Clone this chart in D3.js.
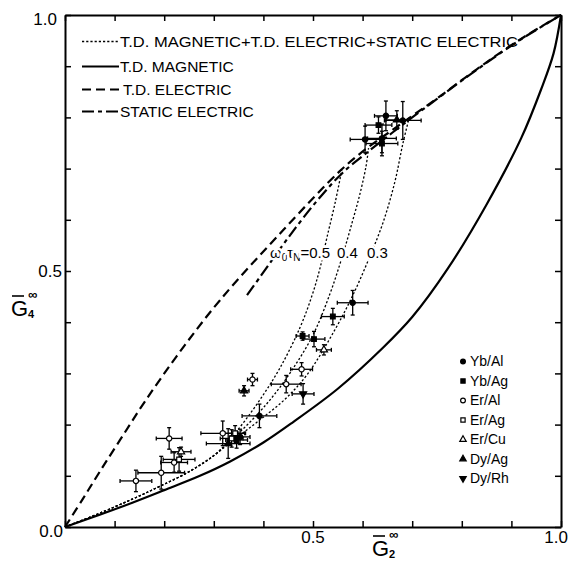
<!DOCTYPE html>
<html><head><meta charset="utf-8">
<script src="https://cdn.jsdelivr.net/npm/d3@7"></script>
<style>body{margin:0;background:#fff}svg{display:block}text{font-family:"Liberation Sans",Arial,sans-serif;fill:#000}</style>
</head><body>
<script>
// ---- data (G2 infinity, G4 infinity) ----
const tickValues = [0,0.1,0.2,0.3,0.4,0.5,0.6,0.7,0.8,0.9,1.0];
const tickLabels = ["0.5","1.0"];
const tdMagnetic = [[0,0],[0.07,0.024],[0.137,0.048],[0.2,0.072],[0.272,0.10],[0.333,0.128],[0.4,0.165],[0.46,0.205],[0.55,0.27],[0.641,0.35],[0.70,0.41],[0.772,0.505],[0.85,0.63],[0.92,0.76],[0.96,0.855],[0.985,0.925],[1,1]];
const tdElectric = [[0,0],[0.036,0.055],[0.07,0.108],[0.111,0.17],[0.161,0.245],[0.23,0.34],[0.3125,0.443],[0.44,0.58],[0.554,0.695],[0.609,0.74],[0.661,0.776],[0.70,0.803],[0.75,0.837],[0.83,0.894],[0.917,0.952],[1,1]];
const staticElectric = [[0.367,0.453],[0.393,0.488],[0.45,0.565],[0.508,0.637],[0.56,0.692],[0.615,0.736],[0.661,0.771],[0.70,0.80],[0.75,0.836],[0.83,0.893],[0.917,0.951],[1,1]];
const combined05 = [[0,0],[0.07,0.027],[0.137,0.055],[0.19,0.079],[0.25,0.108],[0.302,0.141],[0.34,0.18],[0.387,0.24],[0.433,0.31],[0.474,0.39],[0.498,0.452],[0.514,0.505],[0.528,0.565],[0.545,0.635],[0.558,0.697]];
const combined04 = [[0,0],[0.07,0.027],[0.137,0.055],[0.19,0.079],[0.25,0.108],[0.302,0.141],[0.34,0.174],[0.38,0.212],[0.419,0.255],[0.458,0.307],[0.5,0.375],[0.534,0.455],[0.558,0.525],[0.579,0.595],[0.595,0.652],[0.607,0.705],[0.612,0.74]];
const combined03 = [[0,0],[0.07,0.027],[0.137,0.055],[0.19,0.079],[0.25,0.108],[0.302,0.141],[0.34,0.17],[0.39,0.207],[0.444,0.25],[0.49,0.3],[0.544,0.385],[0.579,0.45],[0.611,0.52],[0.641,0.594],[0.665,0.674],[0.681,0.748],[0.694,0.80]];
const omegaLabels = ["0.5","0.4","0.3"];
// samples: [G2, G4, dG2, dG4, system]
const samples = [
 [0.143,0.090,0.032,0.021,"Er/Al"],[0.194,0.106,0.047,0.032,"Er/Al"],[0.210,0.173,0.026,0.021,"Er/Al"],
 [0.220,0.126,0.027,0.019,"Er/Al"],[0.230,0.132,0.032,0.023,"Er/Ag"],[0.234,0.147,0.020,0.009,"Er/Cu"],
 [0.318,0.183,0.044,0.024,"Er/Al"],[0.329,0.163,0.044,0.029,"Dy/Ag"],[0.336,0.173,0.023,0.017,"Er/Ag"],
 [0.343,0.183,0.021,0.015,"Er/Ag"],[0.346,0.170,0.022,0.016,"Yb/Ag"],[0.353,0.176,0.020,0.015,"Yb/Al"],
 [0.392,0.217,0.035,0.023,"Yb/Al"],[0.378,0.288,0.010,0.012,"Er/Al"],[0.361,0.266,0.010,0.010,"Dy/Ag"],
 [0.446,0.279,0.030,0.017,"Er/Al"],[0.480,0.260,0.022,0.020,"Dy/Rh"],[0.477,0.308,0.022,0.013,"Er/Al"],
 [0.522,0.346,0.015,0.010,"Er/Cu"],[0.502,0.367,0.022,0.015,"Yb/Ag"],[0.479,0.373,0.013,0.008,"Yb/Ag"],
 [0.540,0.411,0.023,0.016,"Yb/Ag"],[0.580,0.438,0.031,0.024,"Yb/Al"],
 [0.605,0.757,0.030,0.026,"Yb/Al"],[0.639,0.759,0.029,0.028,"Yb/Al"],[0.639,0.749,0.032,0.024,"Yb/Ag"],
 [0.632,0.785,0.027,0.016,"Yb/Ag"],[0.647,0.803,0.023,0.029,"Yb/Al"],[0.669,0.795,0.022,0.018,"Dy/Ag"],
 [0.681,0.794,0.037,0.037,"Yb/Al"]
];
const systems = ["Yb/Al","Yb/Ag","Er/Al","Er/Ag","Er/Cu","Dy/Ag","Dy/Rh"];
const curveNames = ["T.D. MAGNETIC+T.D. ELECTRIC+STATIC ELECTRIC","T.D. MAGNETIC","T.D. ELECTRIC","STATIC ELECTRIC"];

// ---- drawing ----
const W=570,H=561;
const svg=d3.select("body").append("svg").attr("width",W).attr("height",H);
svg.append("rect").attr("width",W).attr("height",H).attr("fill","#fff");
const x=d3.scaleLinear().domain([0,1]).range([65,561]);
const y=d3.scaleLinear().domain([0,1]).range([527,15]);

function axis(gen,transform){
  const g=svg.append("g").attr("transform",transform)
    .call(gen.tickValues(tickValues).tickFormat("").tickSizeInner(-6).tickSizeOuter(0));
  g.select(".domain").attr("stroke","#000").attr("stroke-width",2);
  g.selectAll(".tick line").attr("stroke","#000").attr("stroke-width",1.5);
  return g;
}
axis(d3.axisBottom(x),`translate(0,${y(0)})`);
axis(d3.axisTop(x),`translate(0,${y(1)})`);
axis(d3.axisLeft(y),`translate(${x(0)},0)`);
axis(d3.axisRight(y),`translate(${x(1)},0)`);

// tick labels
const fs=17;
svg.append("text").attr("x",x(0.5)).attr("y",543).attr("text-anchor","middle").attr("font-size",fs).text(tickLabels[0]);
svg.append("text").attr("x",568).attr("y",543).attr("text-anchor","end").attr("font-size",fs).text(tickLabels[1]);
svg.append("text").attr("x",62).attr("y",y(0.5)+6).attr("text-anchor","end").attr("font-size",fs).text("0.5");
svg.append("text").attr("x",57).attr("y",25).attr("text-anchor","end").attr("font-size",fs).text("1.0");
svg.append("text").attr("x",63).attr("y",537).attr("text-anchor","end").attr("font-size",fs).text("0.0");

// axis titles
function gTitle(gx,gy,sub){
  svg.append("text").attr("x",gx).attr("y",gy).attr("font-size",22).text("G");
  svg.append("line").attr("x1",gx+1).attr("x2",gx+13).attr("y1",gy-20).attr("y2",gy-20).attr("stroke","#000").attr("stroke-width",1.6);
  svg.append("text").attr("x",gx+17).attr("y",gy+2).attr("font-size",11).attr("font-weight","bold").text(sub);
  svg.append("text").attr("x",gx+17).attr("y",gy-17).attr("font-size",13).attr("font-weight","bold").text("∞");
}
gTitle(372,556,"2");
gTitle(11,316,"4");

// curves
const line=d3.line().x(d=>x(d[0])).y(d=>y(d[1])).curve(d3.curveCatmullRom.alpha(0.5));
const styles={
  dotted:{w:1.3,dash:"2.2,2"},
  solid:{w:2.2,dash:null},
  dashed:{w:2.2,dash:"9,5"},
  dashdot:{w:2.2,dash:"12,4,4,4"}
};
function drawCurve(data,st){
  svg.append("path").attr("d",line(data)).attr("fill","none").attr("stroke","#000")
    .attr("stroke-width",st.w).attr("stroke-dasharray",st.dash);
}
drawCurve(tdMagnetic,styles.solid);
drawCurve(tdElectric,styles.dashed);
drawCurve(staticElectric,styles.dashdot);
[combined05,combined04,combined03].forEach(c=>drawCurve(c,styles.dotted));

// curve legend
const legStyles=[styles.dotted,styles.solid,styles.dashed,styles.dashdot];
const legY=[47,72,95,117];
curveNames.forEach((n,i)=>{
  svg.append("line").attr("x1",82).attr("x2",119).attr("y1",legY[i]-5.5).attr("y2",legY[i]-5.5)
   .attr("stroke","#000").attr("stroke-width",legStyles[i].w).attr("stroke-dasharray",legStyles[i].dash);
  const t=svg.append("text").attr("x",i==2?123:120).attr("y",legY[i]).attr("font-size",15.5).text(n);
  if(i==0) t.attr("textLength",398).attr("lengthAdjust","spacingAndGlyphs");
});

// omega label
const om=svg.append("text").attr("x",270).attr("y",258).attr("font-size",15)
  .attr("stroke","#fff").attr("stroke-width",5).attr("paint-order","stroke");
om.append("tspan").text("ω");
om.append("tspan").attr("font-size",10).attr("dy",3).text("0");
om.append("tspan").attr("dy",-3).text("τ");
om.append("tspan").attr("font-size",10).attr("dy",3).text("N");
om.append("tspan").attr("dy",-3).text("="+omegaLabels[0]);
svg.append("text").attr("x",337).attr("y",258).attr("font-size",15).attr("stroke","#fff").attr("stroke-width",5).attr("paint-order","stroke").text(omegaLabels[1]);
svg.append("text").attr("x",367).attr("y",258).attr("font-size",15).attr("stroke","#fff").attr("stroke-width",5).attr("paint-order","stroke").text(omegaLabels[2]);

// markers
const markerDef={
  "Yb/Al":{sym:d3.symbolCircle,fill:true},
  "Yb/Ag":{sym:d3.symbolSquare,fill:true},
  "Er/Al":{sym:d3.symbolCircle,fill:false},
  "Er/Ag":{sym:d3.symbolSquare,fill:false},
  "Er/Cu":{sym:d3.symbolTriangle,fill:false},
  "Dy/Ag":{sym:d3.symbolTriangle,fill:true},
  "Dy/Rh":{sym:d3.symbolTriangle,fill:true,flip:true}
};
function marker(g,cx,cy,sys,size){
  const m=markerDef[sys];
  g.append("path").attr("d",d3.symbol().type(m.sym).size(size)())
   .attr("transform",`translate(${cx},${cy})`+(m.flip?" rotate(180)":""))
   .attr("fill",m.fill?"#000":"#fff").attr("stroke","#000").attr("stroke-width",1.2);
}
const eg=svg.append("g").attr("stroke","#000").attr("stroke-width",1.3);
samples.forEach(s=>{
  const cx=x(s[0]),cy=y(s[1]);
  const x0=x(s[0]-s[2]),x1=x(s[0]+s[2]),y0=y(s[1]-s[3]),y1=y(s[1]+s[3]);
  eg.append("line").attr("x1",x0).attr("x2",x1).attr("y1",cy).attr("y2",cy);
  eg.append("line").attr("x1",cx).attr("x2",cx).attr("y1",y0).attr("y2",y1);
  [x0,x1].forEach(v=>eg.append("line").attr("x1",v).attr("x2",v).attr("y1",cy-2).attr("y2",cy+2));
  [y0,y1].forEach(v=>eg.append("line").attr("x1",cx-2).attr("x2",cx+2).attr("y1",v).attr("y2",v));
});
const mg=svg.append("g");
samples.forEach(s=>marker(mg,x(s[0]),y(s[1]),s[4],22));

// marker legend
systems.forEach((s,i)=>{
  const by=366+i*19.5;
  marker(mg,463,by-4.5,s,18);
  svg.append("text").attr("x",470).attr("y",by).attr("font-size",14).text(s);
});
</script>
</body></html>
